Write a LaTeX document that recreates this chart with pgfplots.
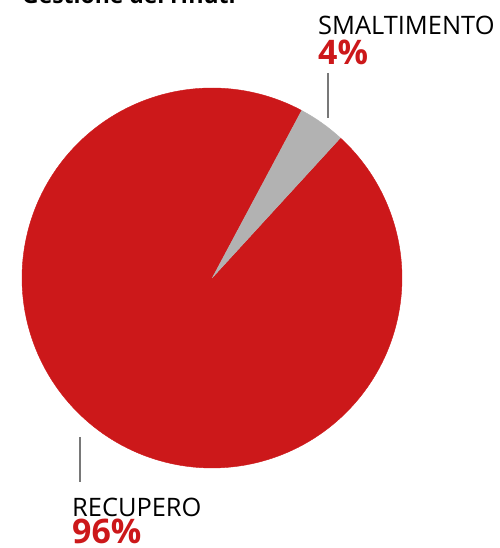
\documentclass[border=0pt]{standalone}
\usepackage{pgfplots}
\pgfplotsset{compat=1.18}
\usepackage{pgfplotstable}
\usepackage{fontspec}
\setmainfont{Open Sans}
\definecolor{pred}{RGB}{204,24,26}
\definecolor{pgray}{RGB}{178,178,178}
\definecolor{lgray}{RGB}{120,120,120}
\pgfplotstableread{
label value
SMALTIMENTO 4
RECUPERO 96
}\piedata
\pgfplotstablegetelem{0}{value}\of\piedata \let\vS\pgfplotsretval
\pgfplotstablegetelem{1}{value}\of\piedata \let\vR\pgfplotsretval
\begin{document}
\begin{tikzpicture}[x=1bp,y=1bp]
\useasboundingbox (0,0) rectangle (500,548);
\begin{axis}[at={(0,0)},anchor=south west,scale only axis,width=500bp,height=548bp,
  xmin=0,xmax=500,ymin=0,ymax=548,hide axis,clip=false]
\pgfmathsetmacro{\sA}{47.5}
\pgfmathsetmacro{\sB}{\sA+3.6*\vS}
\pgfmathsetmacro{\sC}{\sB+3.6*\vR}
\addplot[fill=pred,draw=pred,line width=0.4bp,samples at={-1,0,0.005,...,0.995,1}]
  ({x<0 ? 212 : 212+190*cos(\sB+(\sC-\sB)*x)},{x<0 ? 270 : 270+190*sin(\sB+(\sC-\sB)*x)});
\addplot[fill=pgray,draw=pgray,line width=0.4bp,samples at={-1,0,0.05,...,0.95,1}]
  ({x<0 ? 212 : 212+190*cos(\sA+(\sB-\sA)*x)},{x<0 ? 270 : 270+190*sin(\sA+(\sB-\sA)*x)});
\addplot[lgray,line width=1.8bp] coordinates {(328,475) (328,430)};
\addplot[lgray,line width=1.8bp] coordinates {(80,111) (80,66)};
\node[anchor=base west,inner sep=0] at (axis cs:318,513) {\fontsize{25.5}{26}\selectfont SMALTIMENTO};
\node[anchor=base west,inner sep=0,text=pred] at (axis cs:318,483) {\fontsize{34}{34}\selectfont\bfseries 4\%};
\node[anchor=base west,inner sep=0] at (axis cs:72,31) {\fontsize{25.5}{26}\selectfont RECUPERO};
\node[anchor=base west,inner sep=0,text=pred] at (axis cs:72,4.5) {\fontsize{34}{34}\selectfont\bfseries \vR\%};
\node[anchor=base west,inner sep=0] at (axis cs:22,544) {\fontsize{23}{24}\selectfont\bfseries Gestione dei rifiuti};
\end{axis}
\end{tikzpicture}
\end{document}
